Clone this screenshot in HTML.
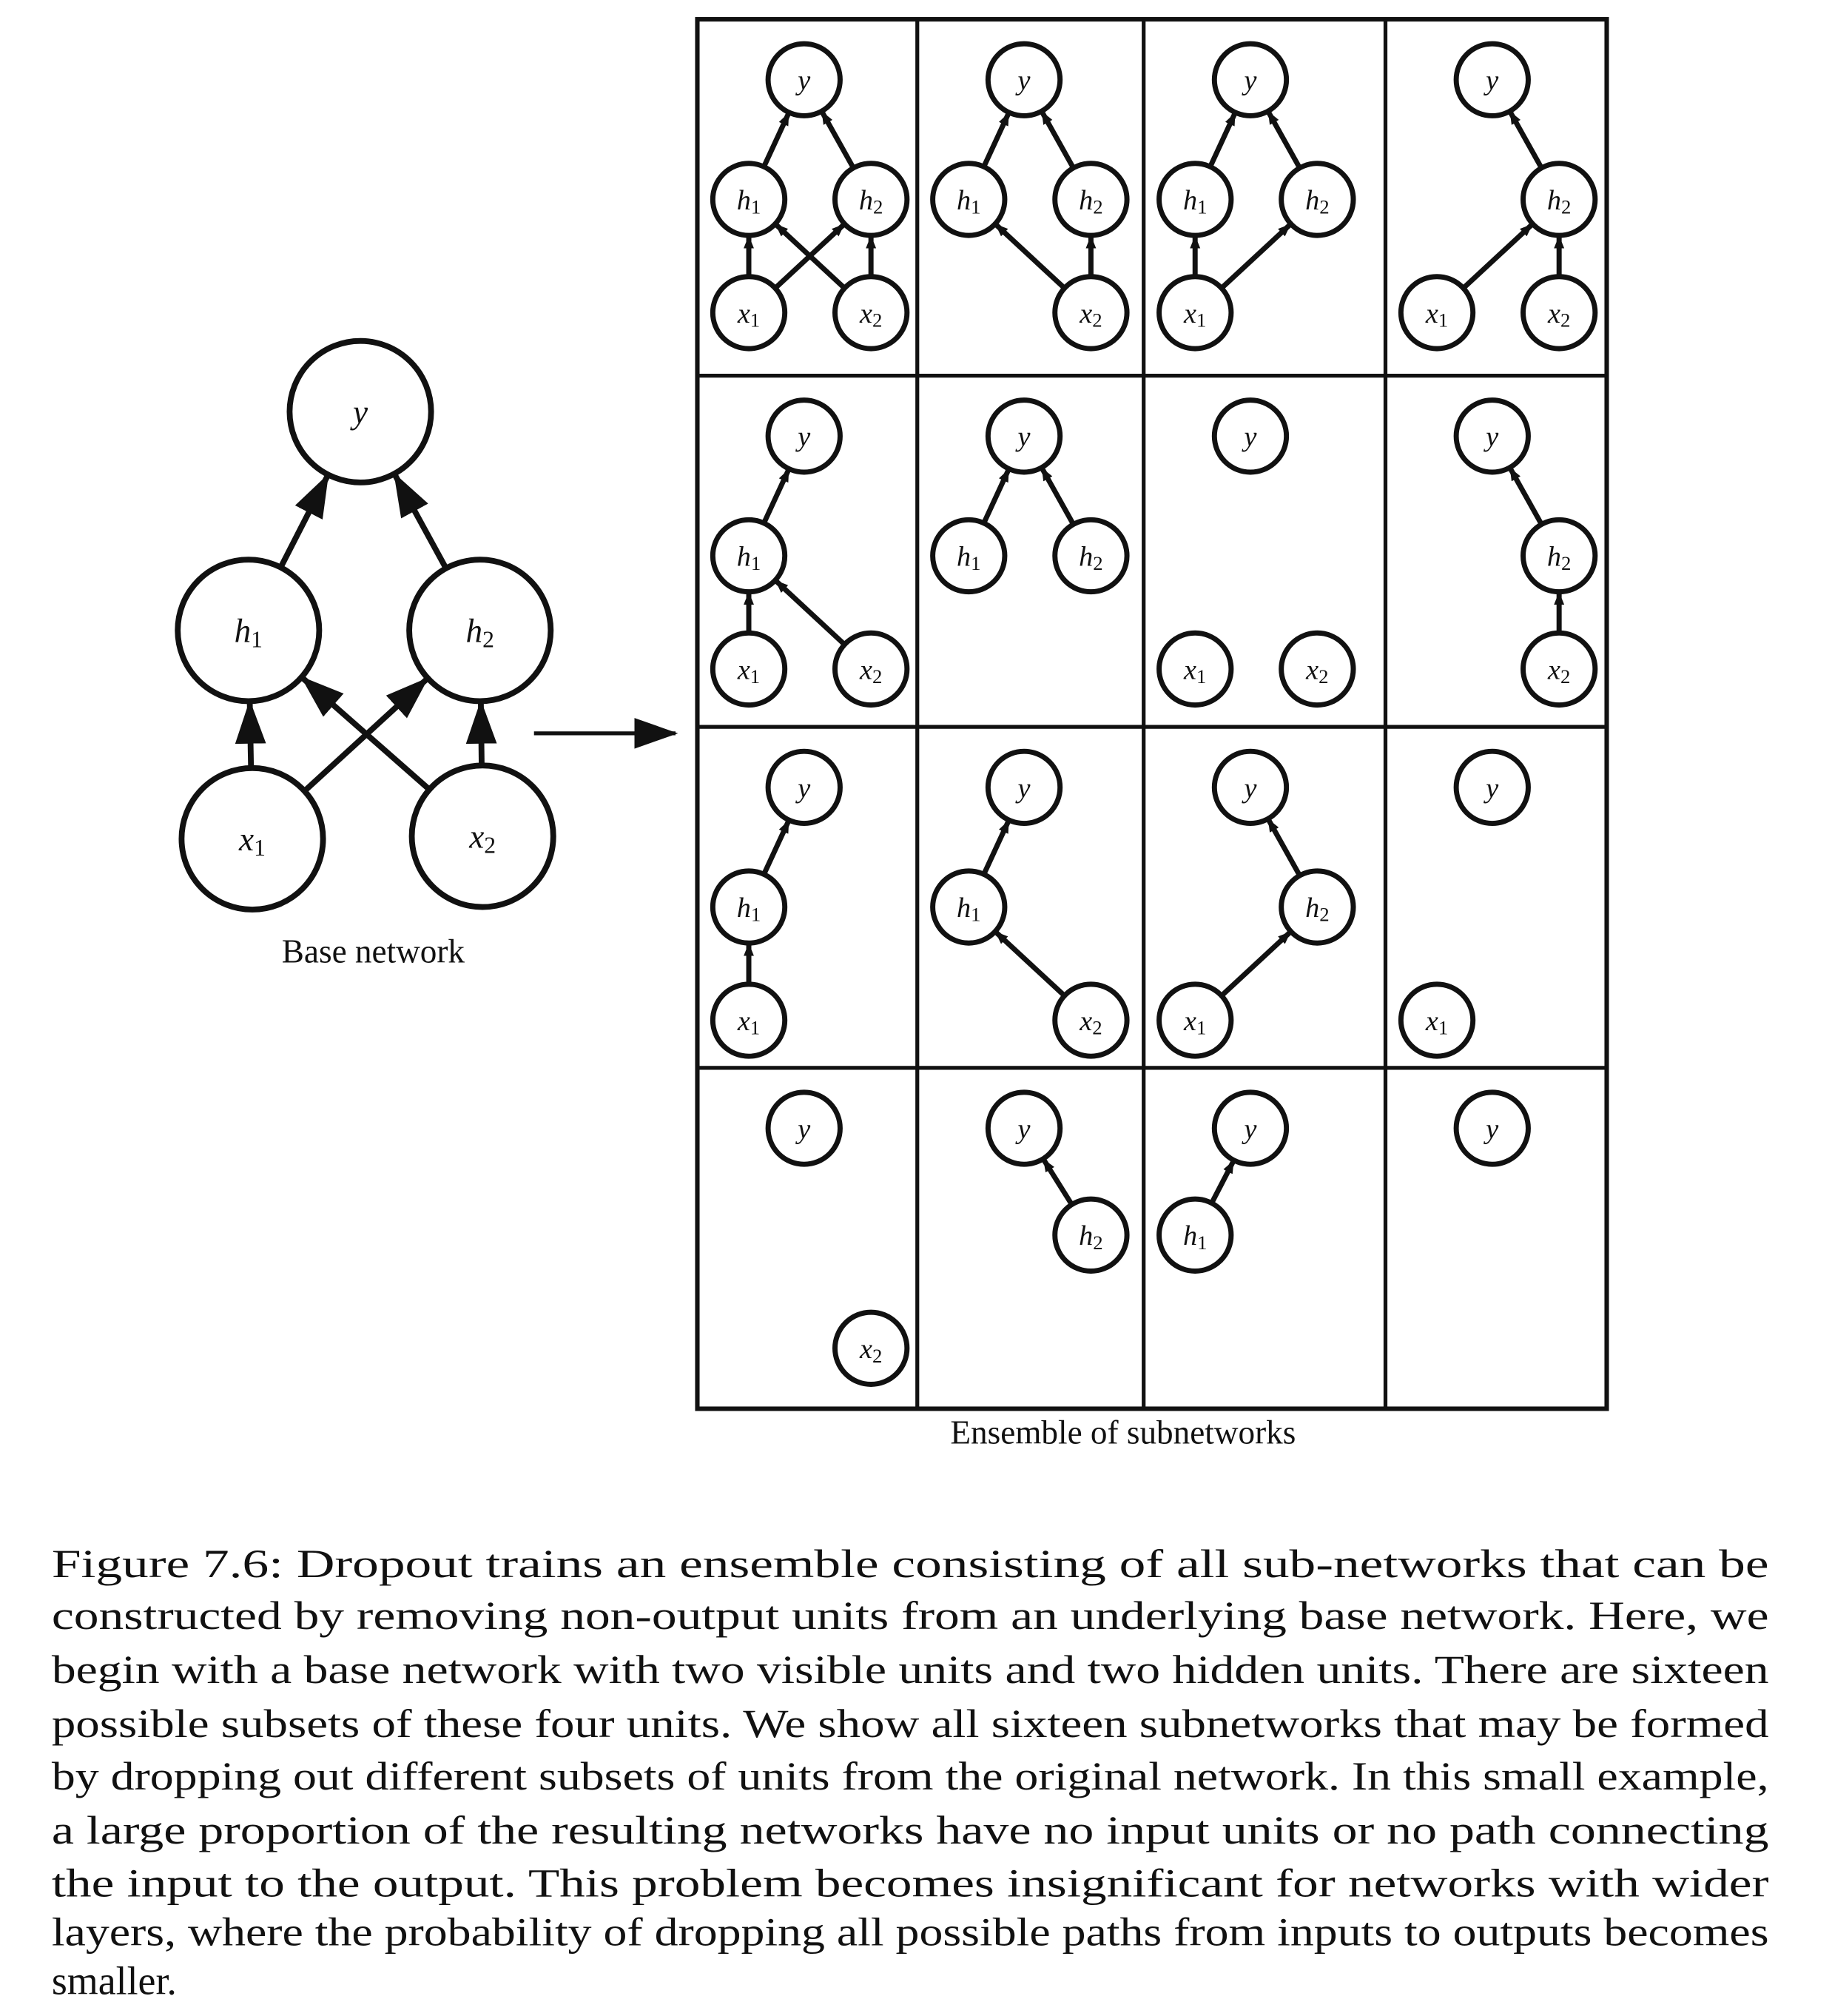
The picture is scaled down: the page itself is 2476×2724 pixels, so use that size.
<!DOCTYPE html>
<html><head><meta charset="utf-8"><style>
html,body{margin:0;padding:0;background:#fff;}
svg{display:block;}
text{font-family:"Liberation Serif",serif;fill:#111;}
.lbl{font-style:italic;}
</style></head><body>
<svg id="fig" width="2476" height="2724" viewBox="0 0 1424 1567" xmlns="http://www.w3.org/2000/svg">
<defs>
<marker id="ah" markerWidth="10" markerHeight="10" refX="9" refY="5" orient="auto" markerUnits="userSpaceOnUse" viewBox="0 0 10 10"><path d="M0,1 L10,5 L0,9 z" fill="#111"/></marker>
<marker id="ahb" markerWidth="34" markerHeight="30" refX="32" refY="15" orient="auto" markerUnits="userSpaceOnUse" viewBox="0 0 34 30"><path d="M0,3 L34,15 L0,27 z" fill="#111"/></marker>
</defs>
<g id="base"></g>
<line x1="415" y1="570" x2="525" y2="570" stroke="#111" stroke-width="3" marker-end="url(#ahb)"/>
<text x="290" y="748" font-size="26" text-anchor="middle">Base network</text>
<g id="grid"></g>
<text x="873" y="1122" font-size="26" text-anchor="middle">Ensemble of subnetworks</text>
<g id="caption" font-size="31"></g>
</svg>
<script>
const NS="http://www.w3.org/2000/svg";
function mk(tag,attrs,parent){const e=document.createElementNS(NS,tag);for(const k in attrs)e.setAttribute(k,attrs[k]);parent.appendChild(e);return e;}
const baseNodes={y:[280,320],h1:[193,490],h2:[373,490],x1:[196,652],x2:[375,650]};
const baseEdges=[["x1","h1"],["x1","h2"],["x2","h1"],["x2","h2"],["h1","y"],["h2","y"]];
const labels={y:["y",""],h1:["h","1"],h2:["h","2"],x1:["x","1"],x2:["x","2"]};
const base=document.getElementById('base');
function drawNet(g,nodes,edges,r,fs,sw,marker,prefix){
  edges.forEach(([a,b])=>{
    const [x1,y1]=nodes[a],[x2,y2]=nodes[b];
    const dx=x2-x1,dy=y2-y1,d=Math.hypot(dx,dy);
    const l=mk('line',{x1:x1+dx/d*r,y1:y1+dy/d*r,x2:x2-dx/d*(r+1),y2:y2-dy/d*(r+1),stroke:'#111','stroke-width':sw,'marker-end':marker},g);
    
    
  });
  Object.keys(nodes).forEach(k=>{
    const [x,y]=nodes[k];
    const c=mk('circle',{cx:x,cy:y,r:r,fill:'#fff',stroke:'#111','stroke-width':sw},g);
    
    
    const t=mk('text',{x:x,y:y+fs*0.35,'font-size':fs,'text-anchor':'middle',class:'lbl'},g);
    
    
    t.textContent=labels[k][0];
    if(labels[k][1]){const s=mk('tspan',{'font-size':fs*0.7,'font-style':'normal',dy:fs*0.15},t);s.textContent=labels[k][1];}
  });
}
drawNet(base,baseNodes,baseEdges,55,26,4.5,'url(#ahb)','base-');
const colX=[542,713,889,1077,1249];
const rowY=[15,292,565,830,1095];
const rel={y:[83,47],h1:[40,140],h2:[135,140],x1:[40,228],x2:[135,228]};
const cells=[
 [["y","h1","h2","x1","x2"],[["x1","h1"],["x1","h2"],["x2","h1"],["x2","h2"],["h1","y"],["h2","y"]]],
 [["y","h1","h2","x2"],[["x2","h1"],["x2","h2"],["h1","y"],["h2","y"]]],
 [["y","h1","h2","x1"],[["x1","h1"],["x1","h2"],["h1","y"],["h2","y"]]],
 [["y","h2","x1","x2"],[["x1","h2"],["x2","h2"],["h2","y"]]],
 [["y","h1","x1","x2"],[["x1","h1"],["x2","h1"],["h1","y"]]],
 [["y","h1","h2"],[["h1","y"],["h2","y"]]],
 [["y","x1","x2"],[]],
 [["y","h2","x2"],[["x2","h2"],["h2","y"]]],
 [["y","h1","x1"],[["x1","h1"],["h1","y"]]],
 [["y","h1","x2"],[["x2","h1"],["h1","y"]]],
 [["y","h2","x1"],[["x1","h2"],["h2","y"]]],
 [["y","x1"],[]],
 [["y","x2"],[]],
 [["y","h2"],[["h2","y"]]],
 [["y","h1"],[["h1","y"]]],
 [["y"],[]]
];
const grid=document.getElementById('grid');
const frame=mk('rect',{x:colX[0],y:rowY[0],width:colX[4]-colX[0],height:rowY[4]-rowY[0],fill:'none',stroke:'#111','stroke-width':3.5},grid);


for(let i=1;i<4;i++){
  const v=mk('line',{x1:colX[i],y1:rowY[0],x2:colX[i],y2:rowY[4],stroke:'#111','stroke-width':3},grid);
  
  
  const h=mk('line',{x1:colX[0],y1:rowY[i],x2:colX[4],y2:rowY[i],stroke:'#111','stroke-width':3},grid);
  
  
}
cells.forEach((c,i)=>{
  const r=Math.floor(i/4),col=i%4;
  const g=mk('g',{},grid);
  
  
  const nodes={};
  c[0].forEach(k=>{nodes[k]=[colX[col]+rel[k][0],rowY[r]+rel[k][1]-(r===3&&k!=='y'?10:0)];});
  drawNet(g,nodes,c[1],28,22,4,'url(#ah)','sub'+(i+1)+'-');
});
const capLines=[
"Figure 7.6: Dropout trains an ensemble consisting of all sub-networks that can be",
"constructed by removing non-output units from an underlying base network. Here, we",
"begin with a base network with two visible units and two hidden units. There are sixteen",
"possible subsets of these four units. We show all sixteen subnetworks that may be formed",
"by dropping out different subsets of units from the original network. In this small example,",
"a large proportion of the resulting networks have no input units or no path connecting",
"the input to the output. This problem becomes insignificant for networks with wider",
"layers, where the probability of dropping all possible paths from inputs to outputs becomes",
"smaller."];
const capY=[1226,1266,1308,1350,1391,1433,1474,1512,1550];
const cap=document.getElementById('caption');
capLines.forEach((s,i)=>{
  const t=mk('text',{x:40,y:capY[i]},cap);
  if(i<capLines.length-1){t.setAttribute('textLength',1335);t.setAttribute('lengthAdjust','spacingAndGlyphs');}
  
  
  t.textContent=s;
});
</script>
</body></html>
